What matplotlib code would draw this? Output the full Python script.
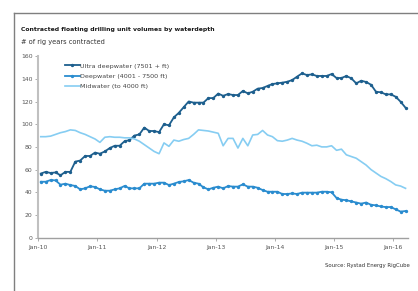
import matplotlib
matplotlib.use("Agg")
import matplotlib.pyplot as plt
from matplotlib.lines import Line2D
import numpy as np

plt.rcParams['font.family'] = ['DejaVu Sans']

title = "Contracted floating drilling unit volumes by waterdepth"
subtitle = "# of rig years contracted"
source = "Source: Rystad Energy RigCube"
series_names = ["Ultra deepwater (7501 + ft)", "Deepwater (4001 - 7500 ft)", "Midwater (to 4000 ft)"]
tick_labels = ["Jan-10", "Jan-11", "Jan-12", "Jan-13", "Jan-14", "Jan-15", "Jan-16"]
n_months = 75  # Jan-2010 .. Mar-2016

ultra = [56.5, 58, 57, 57.5, 55, 58, 58, 67, 68, 72, 72, 75, 74, 76, 79, 81, 81, 85, 86, 90,
         91, 97, 94, 94, 93, 100, 99, 106, 110, 115, 120, 119, 119, 119, 123, 123, 127, 125, 126.6, 125.7,
         125.7, 129.3, 127.2, 128.6, 131.3, 131.9, 133.7, 135.4, 136, 136.6, 137.4, 138.9, 141.9, 144.8, 143.3, 143.9,
         142.5, 142.5, 142.5, 144.2, 140.7, 140.7, 142.5, 140.4, 136, 138.3, 137.2, 134.8, 128.6, 128.1, 126.3, 126.3,
         124.2, 119.8, 114.5]

deep = [49.3, 49.3, 50.8, 50.5, 46.7, 47.6, 46.4, 45.6, 42.6, 43.5, 45.3, 44.7, 42.6, 41.4, 41.4, 42.6, 43.5, 45.6,
        43.5, 43.5, 43.5, 47.6, 47.6, 47.6, 48.5, 48.5, 46.4, 47.6, 49.1, 49.7, 50.8, 48.5, 47.6, 44.4, 42.6,
        44, 45, 43.5, 45.5, 45, 45, 47, 45, 45, 44, 42, 40.5, 40.5, 40.5, 38.5, 38.5, 39, 38.5, 39.7, 39.7, 39.7,
        39.7, 40.5, 40.5, 40, 35, 33.5, 33, 32, 31, 30, 31, 29, 28.5, 27.5, 27, 27, 25, 23, 23.5]

mid = [89, 89, 89.5, 91, 92.5, 93.5, 95, 94.5, 92.5, 91, 89, 87, 84, 88.5, 89, 88.5, 88.5, 88, 88, 87,
       85, 82, 79, 76, 74, 83.5, 80.5, 86, 85, 86.5, 87.5, 91, 95, 94.5, 94, 93, 92, 81, 87.5, 87.5,
       79, 87.5, 81, 90.5, 91, 94.5, 90.5, 89, 85.5, 85, 86, 87.5, 86, 85, 83.2, 81, 81.5, 80, 80, 81,
       77, 78, 73, 71.5, 70, 67, 64, 60, 57, 54, 52, 49.5, 46.5, 45.5, 43.5]

colors = ["#1d5f8e", "#2a8ccf", "#86cdf2"]

W, H = 418, 291
fig = plt.figure(figsize=(W / 100, H / 100), dpi=100)
fig.patch.set_facecolor("white")

# frame lines
fig.add_artist(Line2D([14 / W, 14 / W], [0, 1 - 13 / H], color="#7f7f7f", lw=1.0))
fig.add_artist(Line2D([14 / W, 1], [1 - 13 / H, 1 - 13 / H], color="#7f7f7f", lw=1.0))

fig.text(21 / W, 1 - 30 / H, title, fontsize=4.4, fontweight="bold", color="#1a1a1a",
         ha="left", va="center")
fig.text(21 / W, 1 - 42 / H, subtitle, fontsize=4.8, color="#333333", ha="left", va="center")
fig.text(410 / W, 1 - 266 / H, source, fontsize=3.9, color="#333333", ha="right", va="center")

ax = fig.add_axes([38.3 / W, 1 - 237.7 / H, (408 - 38.3) / W, (237.7 - 56.1) / H])
x = np.arange(n_months) + 0.5

ax.plot(x, ultra, color=colors[0], lw=1.3, marker="o", ms=1.4, label=series_names[0])
ax.plot(x, deep, color=colors[1], lw=1.3, marker="o", ms=1.4, label=series_names[1])
ax.plot(x, mid, color=colors[2], lw=1.2, label=series_names[2])

ax.set_xlim(0, n_months)
ax.set_ylim(0, 160)
ax.set_xticks(np.arange(0, 73, 12))
ax.set_xticklabels(tick_labels)
ax.set_yticks(np.arange(0, 161, 20))

for s in ["top", "right"]:
    ax.spines[s].set_visible(False)
ax.spines["left"].set_color("#c0c0c0")
ax.spines["left"].set_linewidth(1.5)
ax.spines["bottom"].set_color("#a0a0a0")
ax.spines["bottom"].set_linewidth(1.0)
ax.tick_params(axis="y", labelsize=4.4, labelcolor="#555555", color="#a0a0a0",
               length=2, width=0.6, pad=2)
ax.tick_params(axis="x", labelsize=4.4, labelcolor="#555555", color="#a0a0a0",
               length=2, width=0.6, pad=3.5)

leg = ax.legend(loc="upper left", bbox_to_anchor=(0.065, 0.975), frameon=False,
                fontsize=4.6, handlelength=2.3, handletextpad=0.1, labelspacing=0.75,
                borderaxespad=0)
for t in leg.get_texts():
    t.set_color("#444444")

fig.savefig("out.png", dpi=100, facecolor="white")
